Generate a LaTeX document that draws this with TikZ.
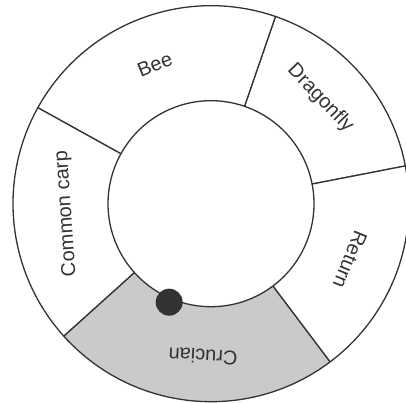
\documentclass[tikz,border=0pt]{standalone}
\usepackage{fontspec}
\setmainfont{Liberation Sans}
\usepackage{xcolor}
\usepackage{tikz}
\usetikzlibrary{calc}

\definecolor{ink}{HTML}{333333}
\definecolor{shade}{HTML}{C9CAC9}

\begin{document}
\begin{tikzpicture}[
    x=1pt, y=1pt,
    sector/.style={draw=ink, line width=1.3pt, fill=white, line join=round},
    chosen/.style={sector, fill=shade},
    lbl/.style={font=\fontsize{20}{24}\selectfont, text=ink, inner sep=0pt},
    marker/.style={circle, fill=ink, minimum size=27pt, inner sep=0pt}
]
    \useasboundingbox (-211,-199.3) rectangle (195,203.7);
    \coordinate (centre) at (0,0);

    % ring sectors: start angle / end angle / style
    \foreach \a/\b/\s in {11/71/sector, 71/151/sector, 151/222/sector, 222/307/chosen, 307/371/sector}
        \draw[\s] (\a:198pt) arc[start angle=\a, end angle=\b, radius=198pt]
            -- (\b:103pt) arc[start angle=\b, end angle=\a, radius=103pt] -- cycle;

    % sector labels
    \foreach \m/\r/\n/\t in {44/152/dragonfly/Dragonfly, 112/150/bee/Bee, 184/145/carp/Common carp, -93/153/crucian/Crucian, -22/150/return/Return}
        \node[lbl, rotate=\m-90] (\n) at (\m:\r pt) {\t};

    % current position
    \node[marker] (dot) at (-113:107pt) {};
\end{tikzpicture}
\end{document}
